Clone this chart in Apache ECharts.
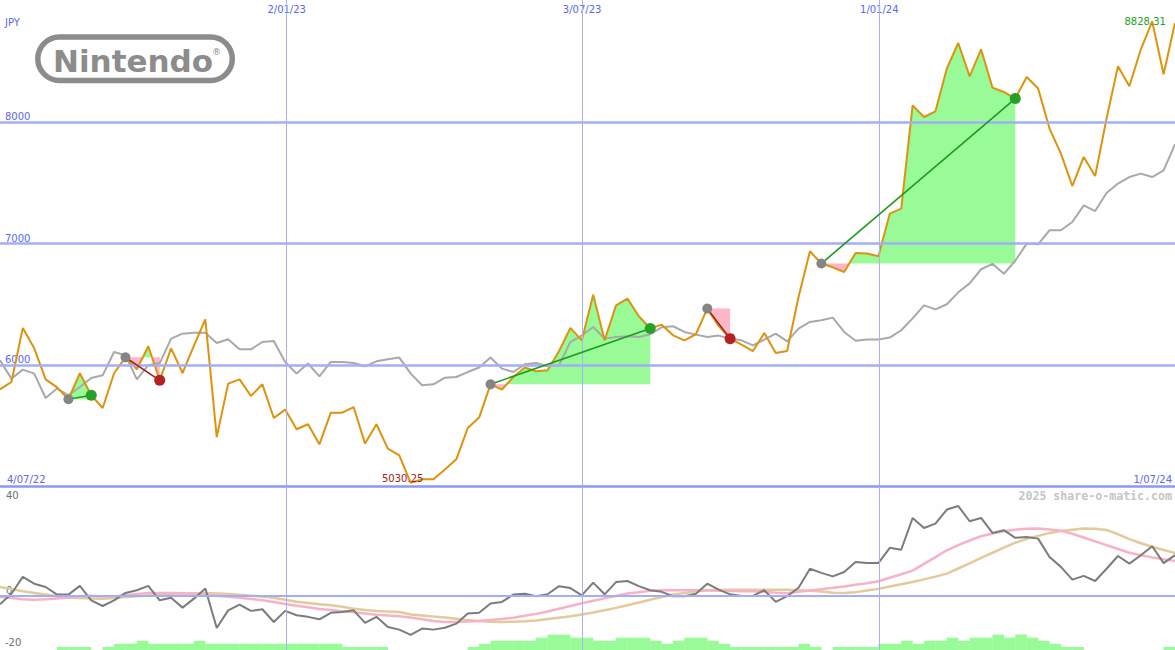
<!DOCTYPE html>
<html><head><meta charset="utf-8">
<script src="https://cdn.jsdelivr.net/npm/echarts@6/dist/echarts.min.js"></script>
<style>html,body{margin:0;padding:0;background:#fdfefd;}#c{width:1175px;height:650px;}</style>
</head><body><div id="c"></div>
<script>
// ---- data (weekly points, index 0 = first week) ----
const priceVals = [
 5800,5860,6305,6137,5882,5816,5718,5932,5751,5646,
 5932,6063,5965,6154,5874,6137,5934,6160,6376,5407,
 5847,5882,5745,5841,5564,5633,5471,5512,5347,5608,
 5608,5654,5353,5512,5312,5257,5030.25,5059,5059,5139,
 5224,5481,5567,5841,5798,5901,5979,5948,5956,6113,
 6305,6203,6579,6203,6491,6546,6401,6300,6332,6244,
 6203,6253,6464,6320,6217,6168,6115,6263,6099,6115,
 6560,6936,6835,6804,6765,6922,6917,6895,7246,7287,
 8137,8041,8088,8440,8650,8376,8598,8283,8247,8193,
 8370,8275,7946,7740,7473,7712,7556,8028,8458,8294,
 8596,8828.31,8393,8815];
const avgVals = [
 6039,5888,5962,5929,5728,5806,5751,5819,5893,5915,
 6107,6080,5882,5998,6016,6217,6258,6265,6265,6181,
 6212,6129,6129,6189,6198,6025,5929,6012,5907,6025,
 6025,6016,5989,6030,6047,6061,5929,5833,5841,5896,
 5901,5942,5979,6061,5970,5942,6006,6016,5989,5998,
 6189,6244,6313,6217,6230,6236,6230,6253,6310,6319,
 6272,6250,6230,6242,6217,6203,6162,6209,6258,6195,
 6300,6354,6368,6390,6272,6199,6209,6209,6226,6286,
 6384,6491,6458,6500,6598,6672,6788,6833,6751,6858,
 6999,6993,7109,7109,7177,7314,7267,7416,7493,7547,
 7575,7547,7602,7816];
const momVals = [
 -3.2,0.7,6.9,4.4,3.2,0.4,0.4,3.6,-1.7,-3.8,
 -1.7,1.0,2.0,3.6,-1.7,-0.8,-4.4,-1.1,2.6,-11.9,
 -5.4,-3.3,-5.6,-5.0,-9.7,-5.6,-7.2,-7.8,-8.7,-6.3,
 -6.0,-5.4,-10.0,-7.8,-11.5,-12.5,-14.4,-12.1,-12.5,-11.8,
 -10.3,-6.6,-6.3,-2.9,-2.3,0.4,0.7,-0.2,0.5,3.5,
 2.8,0.1,4.8,0.5,5.0,5.4,3.5,2.0,1.4,-0.2,
 -0.2,0.7,4.4,2.2,0.5,-0.1,-0.1,2.0,-2.3,-0.2,
 2.9,9.9,8.4,7.1,8.7,12.4,12.0,12.0,17.6,16.9,
 28.6,24.9,26.5,31.7,33.0,27.4,28.6,23.1,24.1,21.3,
 21.6,21.0,14.2,10.6,5.9,7.3,5.4,9.9,14.6,11.8,
 14.9,18.2,12.0,14.9];
const pinkVals = [
 -0.5,-0.9,-1.3,-1.5,-1.3,-1.0,-0.7,-0.2,0.0,-0.3,
 -0.3,0.2,0.6,1.0,1.0,1.0,0.9,0.6,0.4,0.0,
 -0.4,-0.8,-1.2,-1.7,-2.3,-3.1,-3.7,-4.3,-4.9,-5.3,
 -5.7,-6.1,-6.6,-7.0,-7.3,-7.6,-8.0,-8.7,-9.3,-9.7,
 -9.7,-9.5,-9.3,-9.0,-8.6,-8.1,-7.4,-6.7,-5.8,-4.8,
 -3.8,-2.8,-1.9,-1.0,-0.1,0.8,1.3,1.8,2.0,2.0,
 2.0,2.0,1.9,1.8,1.7,1.6,1.6,1.4,1.1,0.9,
 1.4,1.9,2.4,2.9,3.4,4.0,4.6,5.3,6.6,7.9,
 9.2,11.7,14.2,16.7,18.6,20.3,21.9,22.9,23.7,24.3,
 24.6,24.7,24.4,23.9,22.8,21.4,20.0,18.6,17.2,15.8,
 14.9,14.1,13.4,12.8];
const tanVals = [
 3.2,2.4,1.6,1.0,0.4,-0.2,-0.7,-0.9,-1.0,-1.1,
 -0.9,-0.5,-0.2,0.1,0.4,0.6,0.8,0.9,1.0,0.8,
 0.6,0.3,0.0,-0.3,-0.8,-1.5,-2.2,-2.7,-3.2,-3.5,
 -4.1,-4.8,-5.3,-5.6,-5.8,-6.0,-6.9,-7.3,-7.7,-8.0,
 -8.5,-9.0,-9.3,-9.6,-9.7,-9.6,-9.4,-9.1,-8.6,-8.1,
 -7.6,-6.9,-6.2,-5.4,-4.5,-3.5,-2.5,-1.5,-0.5,0.4,
 1.0,1.6,2.0,2.1,2.2,2.2,2.2,2.2,2.2,2.2,
 2.0,1.8,1.5,1.1,1.0,1.3,1.9,2.5,3.4,4.2,
 5.0,6.0,7.0,8.1,10.0,11.9,13.9,15.8,17.7,19.5,
 20.9,22.0,23.1,23.8,24.3,24.7,24.6,24.2,22.6,20.8,
 19.3,18.0,16.8,15.7];
// histogram levels for the span between week k and week k+1
const barLevels = [
 0,0,0,0,0,1,1,1,0,1,
 2,2,3,2,2,2,2,3,2,2,
 2,2,2,2,2,2,2,2,2,2,
 1,1,1,1,0,0,0,0,0,0,
 0,1,2,3,3,3,3,4,5,5,
 4,4,3,3,4,4,4,3,2,3,
 4,4,3,2,1,1,1,1,1,1,
 2,1,0,1,1,1,1,2,2,3,
 2,3,3,4,3,4,4,5,4,5,
 4,3,2,1,1,0,0,0,0,0,
 0,0,1];
const tradeEntry = [6, 11, 43, 62, 72];
const tradeExit  = [8, 14, 57, 64, 89];
const dateTickPos = [25.13, 51.03, 77.08];
const dateTickLabels = ['2/01/23', '3/07/23', '1/01/24'];
const startLabel = '4/07/22';
const endLabel = '1/07/24';
const priceTicks = [6000, 7000, 8000];
const oscTicks = [40, 0, -20];

// ---- styles ----
const FONT = '"DejaVu Sans", Verdana, sans-serif';
const BLUE = '#5b68ee';
const GRID = '#a3aef5';
const SEP = '#8c98f0';
const VLINE = '#a9b1f3';
const WIN = '#98fb98';
const LOSS = '#ffb6c6';

const chart = echarts.init(document.getElementById('c'), null, {renderer: 'svg'});

function fillItem(params, api) {
  const a = api.value(0), b = api.value(1), P = api.value(2);
  const pts = [];
  for (let k = a; k <= b; k++) {
    if (k > a) {
      const p0 = priceVals[k - 1], p1 = priceVals[k];
      if ((p0 - P) * (p1 - P) < 0) {
        const t = (P - p0) / (p1 - p0);
        pts.push([k - 1 + t, P]);
      }
    }
    pts.push([k, priceVals[k]]);
  }
  const poly = fn => [api.coord([a, P])]
    .concat(pts.map(p => api.coord([p[0], fn(p[1], P)])), [api.coord([b, P])]);
  return {type: 'group', children: [
    {type: 'polygon', shape: {points: poly(Math.max)}, style: {fill: WIN}},
    {type: 'polygon', shape: {points: poly(Math.min)}, style: {fill: LOSS}}
  ]};
}
function tradeItem(params, api) {
  const a = api.value(0), b = api.value(1), P = api.value(2);
  const Q = priceVals[b];
  const win = Q >= P;
  const s = api.coord([a, P]), e = api.coord([b, Q]);
  return {type: 'group', children: [
    {type: 'line', shape: {x1: s[0], y1: s[1], x2: e[0], y2: e[1]},
     style: {stroke: win ? '#1f9a1f' : '#a01c1c', lineWidth: 1.6}},
    {type: 'circle', shape: {cx: s[0], cy: s[1], r: 5}, style: {fill: '#858585'}},
    {type: 'circle', shape: {cx: e[0], cy: e[1], r: 5.5}, style: {fill: win ? '#26a026' : '#b32222'}}
  ]};
}

const trades = tradeEntry.map((a, i) => [a, tradeExit[i], priceVals[a]]);
const pairs = arr => arr.map((v, i) => [i, v]);

const option = {
  backgroundColor: '#fdfefd',
  animation: false,
  grid: [
    {left: 0, right: 0, top: 0, height: 486.5},
    {left: 0, right: 0, top: 487, height: 163}
  ],
  xAxis: [
    {gridIndex: 0, type: 'value', min: 0, max: 103, axisLine: {show: false}, axisTick: {show: false},
     axisLabel: {show: false}, splitLine: {show: false}},
    {gridIndex: 0, type: 'value', position: 'top', min: 0, max: 103, axisLine: {show: false},
     axisTick: {show: false}, splitLine: {show: false},
     axisLabel: {inside: true, margin: 4, customValues: dateTickPos,
       formatter: v => dateTickLabels[dateTickPos.indexOf(v)] || '',
       color: BLUE, fontSize: 10, fontFamily: FONT}},
    {gridIndex: 1, type: 'value', min: 0, max: 103, show: false}
  ],
  yAxis: [
    {gridIndex: 0, type: 'value', min: 5000, max: 9004, axisLine: {show: false}, axisTick: {show: false},
     splitLine: {show: false},
     axisLabel: {inside: true, margin: 5, verticalAlign: 'bottom', customValues: priceTicks,
       formatter: v => String(v), color: BLUE, fontSize: 10, fontFamily: FONT}},
    {gridIndex: 1, type: 'value', min: -20, max: 40, axisLine: {show: false}, axisTick: {show: false},
     splitLine: {show: false},
     axisLabel: {inside: true, margin: 6, verticalAlign: 'bottom', customValues: [oscTicks[1]],
       formatter: v => String(v), color: '#6e6e6e', fontSize: 10, fontFamily: FONT}},
    {gridIndex: 1, type: 'value', min: 0, max: 53, show: false}
  ],
  graphic: [
    {type: 'text', x: 5, y: 22, silent: true,
     style: {text: 'JPY', font: '10px ' + FONT, fill: BLUE, verticalAlign: 'middle'}},
    {type: 'text', x: 7, y: 479, silent: true,
     style: {text: startLabel, font: '10px ' + FONT, fill: BLUE, verticalAlign: 'middle'}},
    {type: 'text', x: 1172, y: 479, silent: true,
     style: {text: endLabel, font: '10px ' + FONT, fill: BLUE, align: 'right', verticalAlign: 'middle'}},
    {type: 'text', x: 6, y: 495.5, silent: true,
     style: {text: String(oscTicks[0]), font: '10px ' + FONT, fill: '#6e6e6e', verticalAlign: 'middle'}},
    {type: 'text', x: 5, y: 642, silent: true,
     style: {text: String(oscTicks[2]), font: '10px ' + FONT, fill: '#6e6e6e', verticalAlign: 'middle'}},
    {type: 'text', x: 1172, y: 496, silent: true,
     style: {text: '2025 share-o-matic.com', font: 'bold 11.6px "DejaVu Sans Mono", monospace',
       fill: '#c6c6c6', align: 'right', verticalAlign: 'middle'}},
    {type: 'rect', silent: true, shape: {x: 37.8, y: 37, width: 194.5, height: 43.5, r: 21.7},
     style: {fill: 'none', stroke: '#8c8c8c', lineWidth: 5.5}},
    {type: 'text', x: 53, y: 60.5, silent: true,
     style: {text: 'Nintendo', font: 'bold 31px "DejaVu Sans", sans-serif', fill: '#8c8c8c', verticalAlign: 'middle'}},
    {type: 'text', x: 216.5, y: 52, silent: true,
     style: {text: '\u00ae', font: '9px ' + FONT, fill: '#8c8c8c', align: 'center', verticalAlign: 'middle'}}
  ],
  series: [
    {type: 'line', xAxisIndex: 0, yAxisIndex: 0, data: [], z: 0, silent: true,
     markLine: {silent: true, symbol: ['none', 'none'], label: {show: false}, animation: false,
       data: dateTickPos.map(v => ({xAxis: v, lineStyle: {color: VLINE, width: 1, type: 'solid'}}))
         .concat(priceTicks.map(v => ({yAxis: v, lineStyle: {color: GRID, width: 2.5, type: 'solid'}})))
         .concat([{yAxis: 5000, lineStyle: {color: SEP, width: 2.5, type: 'solid'}}])}},
    {type: 'line', xAxisIndex: 2, yAxisIndex: 1, data: [], z: 0, silent: true,
     markLine: {silent: true, symbol: ['none', 'none'], label: {show: false}, animation: false,
       data: dateTickPos.map(v => ({xAxis: v, lineStyle: {color: VLINE, width: 1, type: 'solid'}}))
         .concat([{yAxis: 0, lineStyle: {color: GRID, width: 2, type: 'solid'}}])}},
    {type: 'custom', xAxisIndex: 0, yAxisIndex: 0, z: 1, silent: true,
     encode: {x: [0, 1], y: 2}, data: trades, renderItem: fillItem},
    {type: 'line', xAxisIndex: 0, yAxisIndex: 0, z: 2, silent: true, data: pairs(avgVals),
     showSymbol: false, lineStyle: {color: '#a9a9a9', width: 2}},
    {type: 'line', xAxisIndex: 0, yAxisIndex: 0, z: 3, silent: true, data: pairs(priceVals),
     showSymbol: false, lineStyle: {color: '#dc940f', width: 2},
     markPoint: {symbol: 'circle', symbolSize: 0, silent: true, animation: false,
       data: [
         {type: 'max', label: {show: true, position: 'inside', offset: [-7, 0],
           formatter: p => p.value.toFixed(2), color: '#22a022', fontSize: 10, fontFamily: FONT}},
         {type: 'min', label: {show: true, position: 'inside', offset: [-8, -4],
           formatter: p => p.value.toFixed(2), color: '#a31a1a', fontSize: 10, fontFamily: FONT}}
       ]}},
    {type: 'custom', xAxisIndex: 0, yAxisIndex: 0, z: 5, silent: true,
     encode: {x: [0, 1], y: 2}, data: trades, renderItem: tradeItem},
    {type: 'bar', xAxisIndex: 2, yAxisIndex: 2, z: 1, silent: true, barWidth: 11.6,
     data: barLevels.map((v, k) => [k + 0.5, v]).filter(d => d[1] > 0),
     itemStyle: {color: WIN}},
    {type: 'line', xAxisIndex: 2, yAxisIndex: 1, z: 2, silent: true, data: pairs(tanVals),
     showSymbol: false, lineStyle: {color: '#e3ca9b', width: 2.5}},
    {type: 'line', xAxisIndex: 2, yAxisIndex: 1, z: 3, silent: true, data: pairs(pinkVals),
     showSymbol: false, lineStyle: {color: '#f8b2c6', width: 2.5}},
    {type: 'line', xAxisIndex: 2, yAxisIndex: 1, z: 4, silent: true, data: pairs(momVals),
     showSymbol: false, lineStyle: {color: '#7c7c7c', width: 2}}
  ]
};
chart.setOption(option);
</script>
</body></html>
